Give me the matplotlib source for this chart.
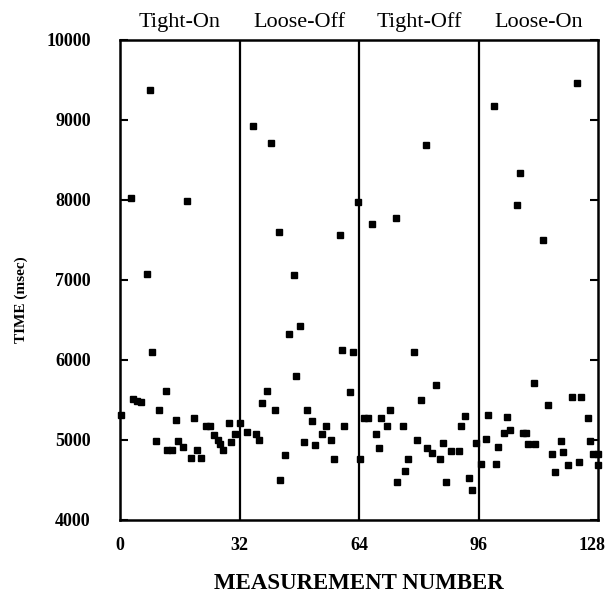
import matplotlib
matplotlib.use("Agg")
import matplotlib.pyplot as plt
from matplotlib.transforms import ScaledTranslation

plt.rcParams["font.family"] = ["Liberation Serif", "DejaVu Serif"]

# measurement number / time (msec) for each condition
tight_on_x = [0.3, 2.9, 3.4, 4.5, 5.6, 7.1, 8.0, 8.5, 9.7, 10.5, 12.2, 12.5, 13.9, 14.9, 15.6,
              16.8, 18.0, 19.0, 19.9, 20.6, 21.7, 23.1, 24.1, 25.1, 26.2, 26.8, 27.6, 29.1,
              29.8, 30.7, 32.2]
tight_on_y = [5308, 8030, 5517, 5490, 5475, 7080, 9380, 6104, 4983, 5375, 5612, 4875, 4875, 5246,
              4983, 4917, 7990, 4770, 5279, 4875, 4770, 5175, 5175, 5062, 4996, 4946, 4875, 5212,
              4975, 5071, 5207]

loose_off_x = [34.1, 35.5, 36.5, 37.2, 38.0, 39.4, 40.4, 41.5, 42.5, 42.8, 44.3, 45.3, 46.6, 47.2,
               48.1, 49.3, 50.1, 51.4, 52.2, 54.2, 55.1, 56.5, 57.2, 58.8, 59.5, 60.0, 61.5, 62.4,
               63.8, 64.2]
loose_off_y = [5103, 8922, 5078, 5004, 5468, 5610, 8718, 5369, 7606, 4502, 4808, 6323, 7062, 5800,
               6427, 4975, 5369, 5236, 4941, 5070, 5174, 5004, 4767, 7565, 6128, 5170, 5601, 6096,
               7975, 4767]

tight_off_x = [65.2, 66.4, 67.5, 68.5, 69.3, 69.9, 71.4, 72.2, 73.8, 74.2, 75.8, 76.3, 77.2, 78.8,
               79.4, 80.7, 81.9, 82.2, 83.6, 84.5, 85.7, 86.4, 87.2, 88.6, 90.8, 91.4, 92.4, 93.5,
               94.3, 95.4, 96.6]
tight_off_y = [5278, 5269, 7705, 5070, 4904, 5269, 5170, 5369, 7776, 4477, 5170, 4609, 4767, 6099,
               5004, 5498, 8685, 4904, 4838, 5692, 4767, 4966, 4477, 4863, 4863, 5170, 5299, 4531,
               4373, 4966, 4701]

loose_on_x = [97.9, 98.6, 100.0, 100.7, 101.3, 102.9, 103.6, 104.3, 106.2, 107.0, 107.8, 108.7,
              109.3, 110.9, 111.2, 113.3, 114.6, 115.7, 116.5, 118.0, 118.5, 120.0, 120.9, 122.4,
              123.0, 123.5, 125.4, 125.8, 126.6, 128.0, 128.0]
loose_on_y = [5016, 5318, 9176, 4699, 4917, 5083, 5289, 5120, 7938, 8339, 5083, 5083, 4955, 5710,
              4955, 7497, 5442, 4823, 4596, 4988, 4851, 4686, 5537, 9465, 4728, 5537, 5276, 4988,
              4823, 4823, 4686]

conditions = ["Tight-On", "Loose-Off", "Tight-Off", "Loose-On"]
boundaries = [32, 64, 96]
x_ticks = [0, 32, 64, 96, 128]
y_ticks = [4000, 5000, 6000, 7000, 8000, 9000, 10000]

fig = plt.figure(figsize=(6.06, 5.97), dpi=100)
ax = fig.add_axes([0.198, 0.129, 0.789, 0.804])

for xs, ys in [(tight_on_x, tight_on_y), (loose_off_x, loose_off_y),
               (tight_off_x, tight_off_y), (loose_on_x, loose_on_y)]:
    ax.plot(xs, ys, linestyle="none", marker="s", markersize=5, color="black", clip_on=False)

for b in boundaries:
    ax.axvline(b, color="black", linewidth=1.6)

for i, name in enumerate(conditions):
    ax.text(16 + 32 * i, 1.027, name, transform=ax.get_xaxis_transform(),
            ha="center", va="baseline", fontsize=16)

ax.set_xlim(0, 128)
ax.set_ylim(4000, 10000)
ax.set_xticks(x_ticks)
ax.set_xticklabels([str(v) for v in x_ticks], fontweight="bold")
ax.set_yticks(y_ticks)
ax.set_yticklabels([str(v) for v in y_ticks], fontweight="bold")
ax.tick_params(axis="x", length=0, pad=12, labelsize=13)
ax.tick_params(axis="y", direction="in", length=6, width=1.5, pad=21, labelsize=13,
               right=True)

# last label sits against the figure edge, nudge it in a bit
last = ax.get_xticklabels()[-1]
last.set_transform(last.get_transform() + ScaledTranslation(-6 / 100, 0, fig.dpi_scale_trans))

for s in ax.spines.values():
    s.set_linewidth(1.8)

ax.set_xlabel("MEASUREMENT NUMBER", fontsize=16.5, fontweight="bold")
ax.xaxis.set_label_coords(0.5, -0.110)
ax.set_ylabel("TIME (msec)", fontsize=11, fontweight="bold")
ax.yaxis.set_label_coords(-0.192, 0.46)

fig.savefig("out.png", dpi=100)
